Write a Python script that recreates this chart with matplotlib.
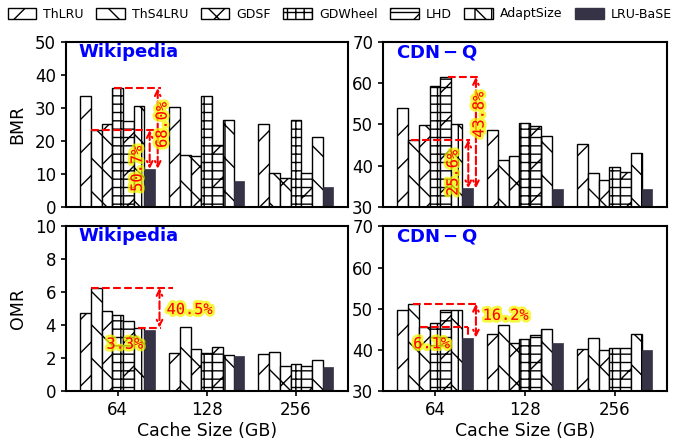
import numpy as np
import matplotlib
matplotlib.use("Agg")
import matplotlib.pyplot as plt
from matplotlib.patches import Patch
import matplotlib.patheffects as pe

################################################################################
# DATA
sizes = ["64", "128", "256"]
policies = ["ThLRU", "ThS4LRU", "GDSF", "GDWheel", "LHD", "AdaptSize", "LRU-BaSE"]
hatches = ["/", "\\", "x", "++", "/--", "\\|", ""]

# byte miss ratio (%), one list per policy, values for 64 / 128 / 256 GB
bmr_wiki = [
    [33.7, 30.2, 25.2],
    [23.3, 15.8, 10.4],
    [25.1, 15.4, 8.9],
    [36.0, 33.7, 26.3],
    [26.1, 18.7, 10.2],
    [30.5, 26.4, 21.2],
    [11.5, 7.7, 6.0],
]
bmr_cdn = [
    [54.1, 48.6, 45.3],
    [46.3, 41.3, 38.3],
    [49.9, 42.3, 36.4],
    [59.4, 50.3, 39.7],
    [61.5, 49.5, 38.5],
    [50.0, 47.2, 43.0],
    [34.5, 34.3, 34.3],
]
# object miss ratio (%)
omr_wiki = [
    [4.74, 2.29, 2.27],
    [6.26, 3.87, 2.39],
    [4.86, 2.53, 1.50],
    [4.64, 2.33, 1.66],
    [4.23, 2.65, 1.50],
    [3.85, 2.19, 1.88],
    [3.72, 2.15, 1.44],
]
omr_cdn = [
    [49.8, 43.8, 40.3],
    [51.2, 46.1, 43.0],
    [45.5, 41.7, 40.0],
    [46.5, 42.7, 40.4],
    [49.8, 43.7, 40.5],
    [49.6, 45.1, 43.9],
    [42.8, 41.7, 40.0],
]

BASE_COLOR = "#363346"
W = 0.12
x = np.arange(len(sizes))

plt.rcParams["hatch.linewidth"] = 1.0
plt.rcParams["axes.linewidth"] = 1.5

fig = plt.figure(figsize=(6.79, 4.42), dpi=100)
ax_tl = fig.add_axes([0.097, 0.532, 0.415, 0.373])
ax_tr = fig.add_axes([0.564, 0.532, 0.418, 0.373])
ax_bl = fig.add_axes([0.097, 0.115, 0.415, 0.373])
ax_br = fig.add_axes([0.564, 0.115, 0.418, 0.373])


def draw_bars(ax, data):
    for i, vals in enumerate(data):
        if policies[i] == "LRU-BaSE":
            ax.bar(x + (i - 3) * W, vals, W, color=BASE_COLOR, edgecolor=BASE_COLOR, lw=0.5)
        else:
            ax.bar(x + (i - 3) * W, vals, W, color="white", edgecolor="black",
                   hatch=hatches[i], lw=1.0)
    ax.set_xlim(-0.58, 2.58)
    ax.set_xticks(x)
    ax.tick_params(labelsize=12, width=1.2)


def arrow(ax, xa, y0, y1):
    ax.annotate("", xy=(xa, y1), xytext=(xa, y0),
                arrowprops=dict(arrowstyle="<->", color="red", ls="--", lw=1.5,
                                shrinkA=0, shrinkB=0, mutation_scale=10))


def hline(ax, y, x0, x1):
    ax.plot([x0, x1], [y, y], color="red", ls="--", lw=1.5)


def label(ax, xt, yt, s, rot=0, ha="center"):
    ax.text(xt, yt, s, color="red", fontsize=11, family="monospace", rotation=rot,
            ha=ha, va="center",
            path_effects=[pe.withStroke(linewidth=4, foreground="#f5f500", alpha=0.75)])


def title(ax, s):
    ax.text(0.045, 0.995, s, transform=ax.transAxes, va="top", ha="left",
            color="blue", fontsize=13, fontweight="bold")


# BMR - Wikipedia
draw_bars(ax_tl, bmr_wiki)
ax_tl.set_ylim(0, 50)
ax_tl.set_yticks(range(0, 51, 10))
ax_tl.set_ylabel("BMR", fontsize=12.5, labelpad=6)
title(ax_tl, "Wikipedia")
hline(ax_tl, 23.3, -0.30, 0.42)
arrow(ax_tl, 0.36, 23.3, 11.5)
label(ax_tl, 0.22, 11.5, "50.7%", rot=90)
hline(ax_tl, 36.0, -0.04, 0.49)
arrow(ax_tl, 0.45, 36.0, 11.5)
label(ax_tl, 0.50, 24.8, "68.0%", rot=90)

# BMR - CDN-Q
draw_bars(ax_tr, bmr_cdn)
ax_tr.set_ylim(30, 70)
ax_tr.set_yticks(range(30, 71, 10))
title(ax_tr, r"$\mathbf{CDN-Q}$")
hline(ax_tr, 46.3, -0.27, 0.39)
arrow(ax_tr, 0.37, 46.3, 34.5)
label(ax_tr, 0.20, 38.2, "25.6%", rot=90)
hline(ax_tr, 61.5, 0.14, 0.50)
arrow(ax_tr, 0.455, 61.5, 34.5)
label(ax_tr, 0.49, 52.3, "43.8%", rot=90)

for ax in (ax_tl, ax_tr):
    ax.tick_params(axis="x", length=0, labelbottom=False)

# OMR - Wikipedia
draw_bars(ax_bl, omr_wiki)
ax_bl.set_ylim(0, 10)
ax_bl.set_yticks(range(0, 11, 2))
ax_bl.set_ylabel("OMR", fontsize=12.5, labelpad=6)
title(ax_bl, "Wikipedia")
hline(ax_bl, 6.26, -0.30, 0.62)
arrow(ax_bl, 0.47, 6.26, 3.85)
hline(ax_bl, 3.85, 0.23, 0.49)
label(ax_bl, 0.55, 4.95, "40.5%", ha="left")
label(ax_bl, 0.08, 2.85, "3.3%")

# OMR - CDN-Q
draw_bars(ax_br, omr_cdn)
ax_br.set_ylim(30, 70)
ax_br.set_yticks(range(30, 71, 10))
title(ax_br, r"$\mathbf{CDN-Q}$")
hline(ax_br, 51.2, -0.25, 0.47)
arrow(ax_br, 0.455, 51.2, 43.0)
hline(ax_br, 45.5, -0.17, 0.37)
ax_br.plot([0.37, 0.37], [45.5, 42.8], color="red", ls="--", lw=1.5)
label(ax_br, 0.53, 48.4, "16.2%", ha="left")
label(ax_br, -0.04, 41.5, "6.1%")

for ax in (ax_bl, ax_br):
    ax.set_xticklabels(sizes)
    ax.set_xlabel("Cache Size (GB)", fontsize=12.5, labelpad=2)

# legend
handles = []
for i, p in enumerate(policies):
    if p == "LRU-BaSE":
        handles.append(Patch(facecolor=BASE_COLOR, edgecolor=BASE_COLOR, label=p))
    else:
        handles.append(Patch(facecolor="white", edgecolor="black", hatch=hatches[i], label=p))
fig.legend(handles=handles, loc="upper center", bbox_to_anchor=(0.5, 1.0), ncol=7,
           frameon=False, fontsize=9.0, handlelength=2.3, handleheight=1.0,
           handletextpad=0.55, columnspacing=1.0, borderaxespad=0.2)

fig.savefig("out.png", dpi=100)
